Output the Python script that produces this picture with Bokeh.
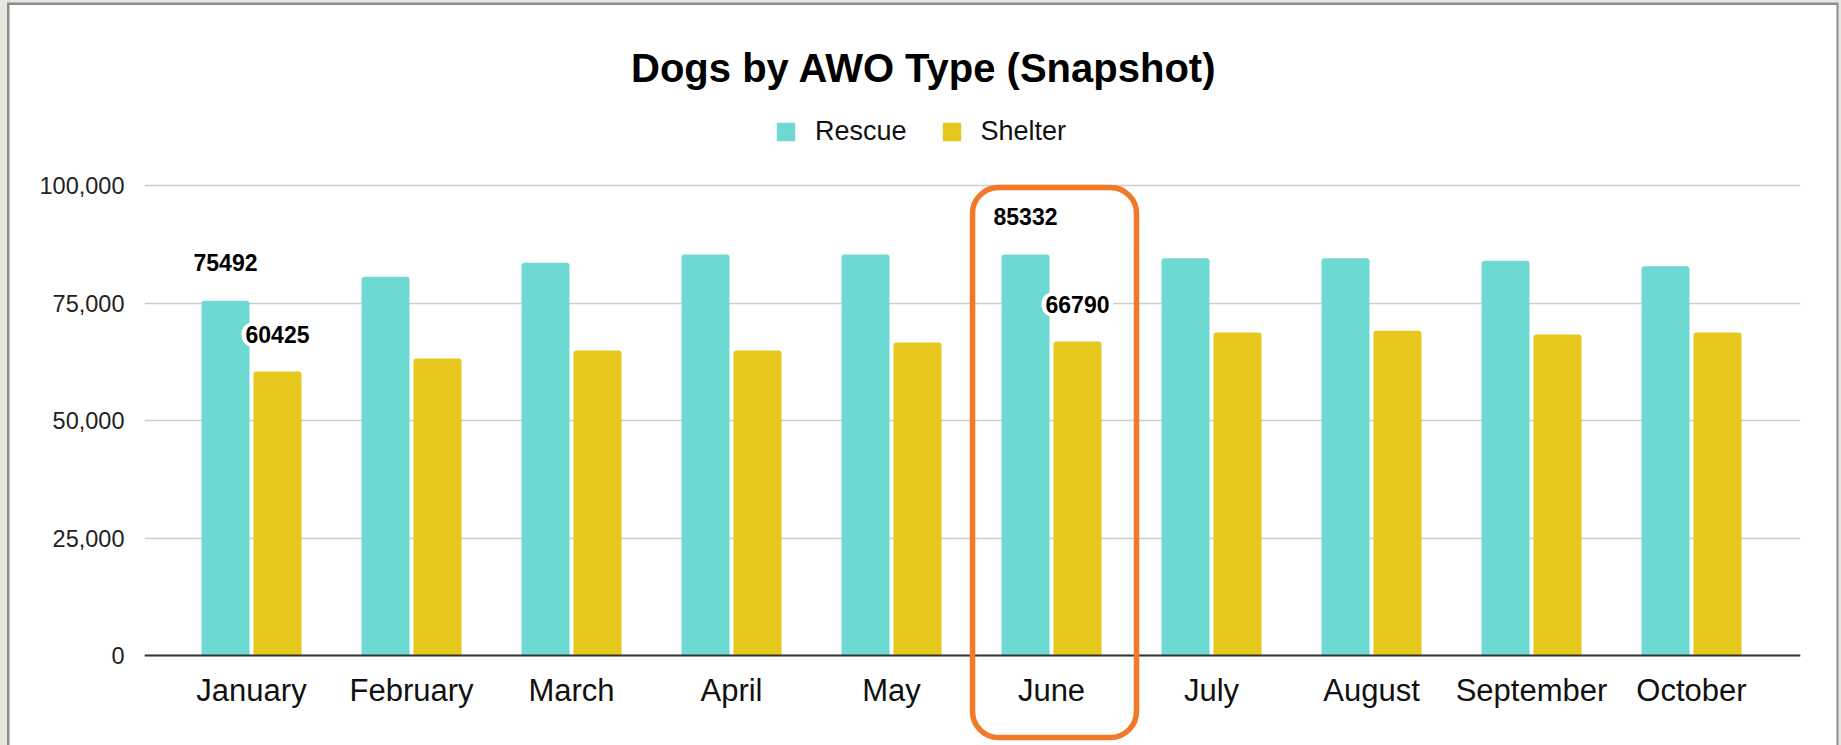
from bokeh.plotting import figure
from bokeh.models import (ColumnDataSource, Range1d, FixedTicker, NumeralTickFormatter,
                          Span, BoxAnnotation, Label, Legend, LegendItem)
from bokeh.core.properties import value
from bokeh.embed import file_html
from bokeh.resources import INLINE

# ---------------- data ----------------
months = ["January", "February", "March", "April", "May",
          "June", "July", "August", "September", "October"]
rescue = [75492, 80600, 83550, 85300, 85300, 85332, 84500, 84500, 84000, 82800]
shelter = [60425, 63200, 64900, 64900, 66600, 66790, 68700, 69100, 68300, 68700]
series_names = ["Rescue", "Shelter"]
y_ticks = [0, 25000, 50000, 75000, 100000]
labeled_months = ["January", "June"]
highlight_month = "June"
title_text = "Dogs by AWO Type (Snapshot)"

# ---------------- layout ----------------
W, H = 1841, 745
FRAME_L, FRAME_R = 144, 1800          # frame edges in figure pixels
ZERO_PY, TOP_PY = 655, 185            # pixel rows of 0 and 100,000
PPU_Y = (ZERO_PY - TOP_PY) / 100000.0
CAT_PX = 160.0
FIRST_CENTER_PX = 251.0

x_start = -(FIRST_CENTER_PX - FRAME_L) / CAT_PX
x_end = x_start + (FRAME_R - FRAME_L) / CAT_PX
y_start = -(H - ZERO_PY) / PPU_Y
y_end = ZERO_PY / PPU_Y


def x_at(px):
    return x_start + (px - FRAME_L) / CAT_PX


def y_at(py):
    return (ZERO_PY - py) / PPU_Y


BAR_W = 48 / CAT_PX
GAP = 4 / CAT_PX
OFF = (BAR_W + GAP) / 2

TEAL = "#6ED9D3"
GOLD = "#E5C81B"
ORANGE = "#F07A28"
FONT = "Liberation Sans"

idx = list(range(len(months)))
src = ColumnDataSource(dict(
    month=months,
    xr=[i - OFF for i in idx],
    xs=[i + OFF for i in idx],
    xc=idx,
    rescue=rescue,
    shelter=shelter,
))

p = figure(width=W, height=H, output_backend="svg", toolbar_location=None,
           x_range=Range1d(x_start, x_end), y_range=Range1d(y_start, y_end),
           x_axis_location=None, title=None,
           min_border_left=FRAME_L, min_border_right=W - FRAME_R,
           min_border_top=0, min_border_bottom=0)
p.outline_line_color = None
# transparent canvas fills; the white page + window border come from CSS below
p.background_fill_alpha = 0
p.border_fill_alpha = 0
EDGE = "#e6e6e0"
LINE = "#8c8c8c"
p.styles = {
    "background-color": "white",
    "box-shadow": (f"inset 7px 0 0 0 {EDGE}, inset 0 2.5px 0 0 {EDGE}, "
                   f"inset -2.5px 0 0 0 {EDGE}, "
                   f"inset 9.5px 0 0 0 {LINE}, inset 0 5px 0 0 {LINE}, "
                   f"inset -4.5px 0 0 0 {LINE}"),
}

# y axis
p.yaxis.ticker = FixedTicker(ticks=y_ticks)
p.yaxis.formatter = NumeralTickFormatter(format="0,0")
p.yaxis.axis_line_color = None
p.yaxis.major_tick_line_color = None
p.yaxis.minor_tick_line_color = None
p.yaxis.major_label_standoff = 14
p.yaxis.major_label_text_font = FONT
p.yaxis.major_label_text_font_size = "23.5px"
p.yaxis.major_label_text_color = "#222222"

p.xgrid.visible = False
p.ygrid.ticker = FixedTicker(ticks=y_ticks)
p.ygrid.grid_line_color = "#cccccc"
p.ygrid.grid_line_width = 1.5

# bars
r1 = p.vbar(x="xr", top="rescue", bottom=0, width=BAR_W, source=src,
            fill_color=TEAL, line_color=None, border_radius=(3, 3, 0, 0))
r2 = p.vbar(x="xs", top="shelter", bottom=0, width=BAR_W, source=src,
            fill_color=GOLD, line_color=None, border_radius=(3, 3, 0, 0))

# baseline
p.add_layout(Span(location=0, dimension="width", line_color="#333333", line_width=2))

# month labels
p.text(x="xc", y=0, text="month", source=src, y_offset=35,
       text_align="center", text_baseline="middle",
       text_font=value(FONT), text_font_size="31px", text_color="#111111")

# value labels for selected months
sel = [months.index(m) for m in labeled_months]
lab_src = ColumnDataSource(dict(
    xr=[src.data["xr"][i] for i in sel],
    xs=[src.data["xs"][i] for i in sel],
    rescue=[rescue[i] for i in sel],
    shelter=[shelter[i] for i in sel],
    rescue_txt=[str(rescue[i]) for i in sel],
    shelter_txt=[str(shelter[i]) for i in sel],
))
for xcol, ycol, tcol, off in (("xr", "rescue", "rescue_txt", -38), ("xs", "shelter", "shelter_txt", -37)):
    p.text(x=xcol, y=ycol, text=tcol, source=lab_src, y_offset=off,
           text_align="center", text_baseline="middle",
           text_font=value(FONT), text_font_style="bold", text_font_size="23px",
           text_color="#000000", background_fill_color="white",
           padding=4, border_radius=12)

# highlight box around June
hi = months.index(highlight_month)
p.add_layout(BoxAnnotation(left=hi - 79 / CAT_PX, right=hi + 85 / CAT_PX,
                           top=y_at(187), bottom=y_at(737),
                           fill_color=None, fill_alpha=0,
                           line_color=ORANGE, line_alpha=1.0, line_width=5.5,
                           border_radius=26, level="overlay"))

# title
p.add_layout(Label(x=x_at(923.5), y=y_at(67), text=title_text,
                   text_align="center", text_baseline="middle",
                   text_font=FONT, text_font_style="bold", text_font_size="40px",
                   text_color="#000000"))

# legend
legend = Legend(items=[LegendItem(label=series_names[0], renderers=[r1]),
                       LegendItem(label=series_names[1], renderers=[r2])],
                orientation="horizontal", location=(630, 598),
                padding=0, margin=0, spacing=33, label_standoff=18,
                glyph_width=23, glyph_height=23,
                label_text_font=FONT, label_text_font_size="27px",
                label_text_color="#111111",
                border_line_color=None, background_fill_alpha=0)
p.add_layout(legend)

open("out.html", "w").write(file_html(p, INLINE))
